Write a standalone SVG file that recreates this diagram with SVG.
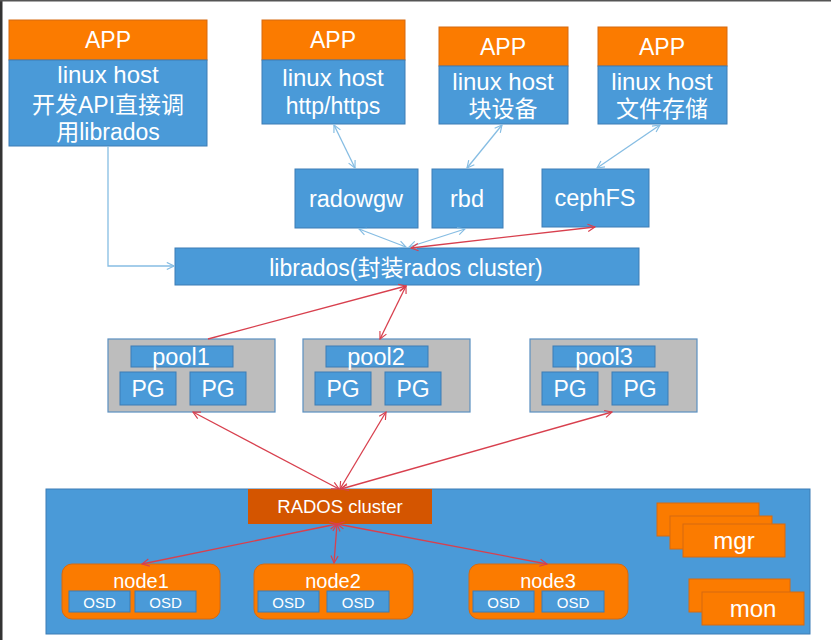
<svg xmlns="http://www.w3.org/2000/svg" width="831" height="640" viewBox="0 0 831 640">
<style>
text{font-family:"Liberation Sans","Noto Sans CJK SC",sans-serif;fill:#fff;text-anchor:middle}
.org{fill:#fb7b00;stroke:#d66a10;stroke-width:1}
.blu{fill:#4a9ad8;stroke:#3c7db5;stroke-width:1}
.pool{fill:#bdbdbd;stroke:#5a8fc0;stroke-width:1.2}
.dorg{fill:#d45500}
.cb{fill:none;stroke:#86bde3;stroke-width:1.3}
.cr{fill:none;stroke:#d8404e;stroke-width:1.3}
.t22{font-size:23px}
.t24{font-size:24px}
.t21{font-size:23.5px}
.t20{font-size:20px}
</style>
<defs>
<marker id="ab" viewBox="0 0 10 10" refX="9" refY="5" markerWidth="9" markerHeight="9" markerUnits="userSpaceOnUse" orient="auto-start-reverse"><path d="M1,1 L9,5 L1,9" fill="none" stroke="#86bde3" stroke-width="1.3"/></marker>
<marker id="ar" viewBox="0 0 10 10" refX="9" refY="5" markerWidth="9" markerHeight="9" markerUnits="userSpaceOnUse" orient="auto-start-reverse"><path d="M1,1 L9,5 L1,9" fill="none" stroke="#d8404e" stroke-width="1.3"/></marker>
</defs>
<rect x="0" y="0" width="831" height="640" fill="#fff"/>
<rect x="0" y="0" width="2.5" height="640" fill="#333"/>
<rect x="0" y="0" width="831" height="1.5" fill="#555"/>

<g id="app1">
<rect class="org" x="9" y="20" width="198" height="40"/>
<rect class="blu" x="9" y="60" width="198" height="86"/>
<text class="t22" x="108" y="48">APP</text>
<text class="t24" x="108" y="83">linux host</text>
<text class="t22" x="108" y="113">开发API直接调</text>
<text class="t22" x="108" y="140">用librados</text>
</g>
<g id="app2">
<rect class="org" x="262" y="20" width="143" height="40"/>
<rect class="blu" x="262" y="60" width="143" height="64"/>
<text class="t22" x="333" y="48">APP</text>
<text class="t24" x="333" y="86">linux host</text>
<text class="t22" x="333" y="114">http/https</text>
</g>
<g id="app3">
<rect class="org" x="439" y="27" width="129" height="39"/>
<rect class="blu" x="439" y="66" width="129" height="58"/>
<text class="t22" x="503" y="55">APP</text>
<text class="t24" x="503" y="90">linux host</text>
<text class="t22" x="503" y="117">块设备</text>
</g>
<g id="app4">
<rect class="org" x="598" y="27" width="129" height="39"/>
<rect class="blu" x="598" y="66" width="129" height="58"/>
<text class="t22" x="662" y="55">APP</text>
<text class="t24" x="662" y="90">linux host</text>
<text class="t22" x="662" y="117">文件存储</text>
</g>

<g id="radowgw">
<rect class="blu" x="295" y="169" width="123" height="59"/>
<text class="t21" x="356" y="207">radowgw</text>
</g>
<g id="rbd">
<rect class="blu" x="432" y="169" width="71" height="59"/>
<text class="t21" x="467" y="207">rbd</text>
</g>
<g id="cephfs">
<rect class="blu" x="542" y="169" width="107" height="58"/>
<text class="t21" x="595" y="206">cephFS</text>
</g>
<g id="librados">
<rect class="blu" x="175" y="248" width="464" height="37"/>
<text x="406" y="276" font-size="23px">librados(封装rados cluster)</text>
</g>

<g id="pool1">
<rect class="pool" x="108" y="339" width="167" height="73"/>
<rect class="blu" x="131" y="346" width="102" height="21"/>
<text class="t21" x="181" y="365">pool1</text>
<rect class="blu" x="120" y="372" width="56" height="33"/>
<text class="t22" x="148" y="397">PG</text>
<rect class="blu" x="190" y="372" width="56" height="33"/>
<text class="t22" x="218" y="397">PG</text>
</g>
<g id="pool2">
<rect class="pool" x="303" y="339" width="167" height="73"/>
<rect class="blu" x="326" y="346" width="102" height="21"/>
<text class="t21" x="376" y="365">pool2</text>
<rect class="blu" x="315" y="372" width="56" height="33"/>
<text class="t22" x="343" y="397">PG</text>
<rect class="blu" x="385" y="372" width="56" height="33"/>
<text class="t22" x="413" y="397">PG</text>
</g>
<g id="pool3">
<rect class="pool" x="530" y="339" width="167" height="73"/>
<rect class="blu" x="553" y="346" width="102" height="21"/>
<text class="t21" x="604" y="365">pool3</text>
<rect class="blu" x="542" y="372" width="56" height="33"/>
<text class="t22" x="570" y="397">PG</text>
<rect class="blu" x="612" y="372" width="56" height="33"/>
<text class="t22" x="640" y="397">PG</text>
</g>

<g id="rados-container">
<rect x="46" y="489" width="764" height="145" fill="#4a9ad8" stroke="#3c7db5" stroke-width="1"/>
</g>
<g id="rados-cluster">
<rect class="dorg" x="248" y="489" width="184" height="35"/>
<text x="340" y="513" font-size="18.5px">RADOS cluster</text>
</g>
<g id="node1">
<rect class="org" x="62" y="564" width="158" height="55" rx="10"/>
<text class="t20" x="141" y="588">node1</text>
<rect class="blu" x="69" y="591" width="61" height="21"/>
<text x="99.5" y="608" font-size="15px">OSD</text>
<rect class="blu" x="135" y="591" width="61" height="21"/>
<text x="165.5" y="608" font-size="15px">OSD</text>
</g>
<g id="node2">
<rect class="org" x="254" y="564" width="159" height="55" rx="10"/>
<text class="t20" x="333" y="588">node2</text>
<rect class="blu" x="258" y="591" width="61" height="21"/>
<text x="288.5" y="608" font-size="15px">OSD</text>
<rect class="blu" x="327" y="591" width="62" height="21"/>
<text x="358" y="608" font-size="15px">OSD</text>
</g>
<g id="node3">
<rect class="org" x="469" y="564" width="159" height="55" rx="10"/>
<text class="t20" x="548" y="588">node3</text>
<rect class="blu" x="473" y="591" width="61" height="21"/>
<text x="503.5" y="608" font-size="15px">OSD</text>
<rect class="blu" x="542" y="591" width="62" height="21"/>
<text x="573" y="608" font-size="15px">OSD</text>
</g>
<g id="mgr">
<rect class="org" x="657" y="503" width="102" height="33"/>
<rect class="org" x="670" y="516" width="102" height="33"/>
<rect class="org" x="683" y="524" width="102" height="33"/>
<text class="t24" x="734" y="549">mgr</text>
</g>
<g id="mon">
<rect class="org" x="689" y="579" width="101" height="33"/>
<rect class="org" x="702" y="592" width="102" height="33"/>
<text class="t24" x="753" y="617">mon</text>
</g>

<g id="connectors">
<path class="cb" d="M108,146 V266 H174" marker-end="url(#ab)"/>
<path class="cb" d="M334,125 L355,168" marker-start="url(#ab)" marker-end="url(#ab)"/>
<path class="cb" d="M359,229 L406,247" marker-start="url(#ab)" marker-end="url(#ab)"/>
<path class="cb" d="M502,125 L467,168" marker-start="url(#ab)" marker-end="url(#ab)"/>
<path class="cb" d="M465,229 L409,247" marker-start="url(#ab)" marker-end="url(#ab)"/>
<path class="cb" d="M660,125 L597,168" marker-start="url(#ab)" marker-end="url(#ab)"/>
<path class="cr" d="M411,248 L595,227" marker-start="url(#ar)" marker-end="url(#ar)"/>
<path class="cr" d="M208,339 L406,286" marker-end="url(#ar)"/>
<path class="cr" d="M380,339 L406,286" marker-start="url(#ar)" marker-end="url(#ar)"/>
<path class="cr" d="M193,412 L339,489" marker-start="url(#ar)" marker-end="url(#ar)"/>
<path class="cr" d="M386,412 L340,489" marker-start="url(#ar)" marker-end="url(#ar)"/>
<path class="cr" d="M612,412 L341,489" marker-start="url(#ar)" marker-end="url(#ar)"/>
<path class="cr" d="M337,524 L142,564" marker-start="url(#ar)" marker-end="url(#ar)"/>
<path class="cr" d="M337,524 L334,563" marker-start="url(#ar)" marker-end="url(#ar)"/>
<path class="cr" d="M337,524 L547,564" marker-start="url(#ar)" marker-end="url(#ar)"/>
</g>
</svg>
